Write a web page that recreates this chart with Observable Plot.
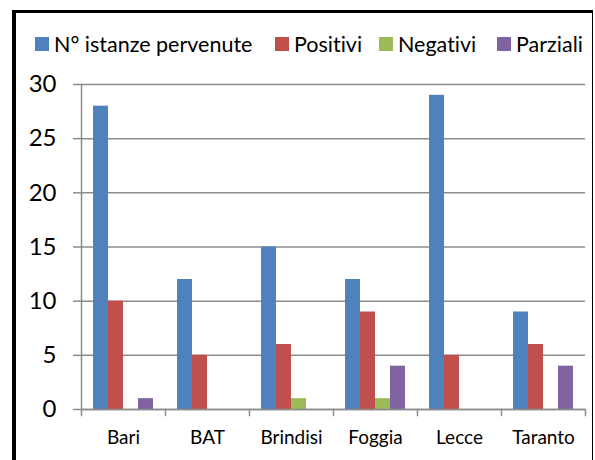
<!DOCTYPE html>
<html>
<head>
<meta charset="utf-8">
<script src="https://cdn.jsdelivr.net/npm/d3@7"></script>
<script src="https://cdn.jsdelivr.net/npm/@observablehq/plot@0.6"></script>
<style>
  html, body { margin: 0; padding: 0; background: white; }
  body { width: 595px; height: 460px; position: relative; overflow: hidden; font-family: Lato, "Open Sans", sans-serif; font-variant-ligatures: none; }
  #frame { position: absolute; left: 12px; top: 10px; width: 576px; height: 470px; border-left: 4px solid black; border-top: 3px solid black; border-right: 1.5px solid black; z-index: 3; pointer-events: none; }
  #legend { position: absolute; left: 0; top: 0; width: 595px; height: 60px; font-size: 21.5px; color: black; white-space: nowrap; z-index: 2; }
  #legend .item { position: absolute; top: 30px; height: 28px; display: flex; align-items: center; }
  #legend .sw { width: 14px; height: 14px; margin-right: 5px; }
  #chart { position: absolute; left: 0; top: 60px; z-index: 1; }
</style>
</head>
<body>
<div id="frame"></div>
<div id="legend"></div>
<div id="chart"></div>
<script>
const categories = ["Bari", "BAT", "Brindisi", "Foggia", "Lecce", "Taranto"];
const series = ["N° istanze pervenute", "Positivi", "Negativi", "Parziali"];
const istanze = [28, 12, 15, 12, 29, 9];
const positivi = [10, 5, 6, 9, 5, 6];
const negativi = [0, 0, 1, 1, 0, 0];
const parziali = [1, 0, 0, 4, 0, 4];
const colors = ["#4F81BD", "#C0504D", "#9BBB59", "#8064A2"];
const yTicks = [0, 5, 10, 15, 20, 25, 30];
const legendLeft = [35, 275, 379, 497];

const seriesValues = [istanze, positivi, negativi, parziali];
const data = categories.flatMap((c, i) =>
  seriesValues.map((arr, j) => ({category: c, series: series[j], value: arr[i]}))
);

// legend
const legend = document.getElementById("legend");
series.forEach((s, j) => {
  const item = document.createElement("div");
  item.className = "item";
  item.style.left = legendLeft[j] + "px";
  const sw = document.createElement("span");
  sw.className = "sw";
  sw.style.background = colors[j];
  const label = document.createElement("span");
  label.textContent = s;
  item.appendChild(sw);
  item.appendChild(label);
  legend.appendChild(item);
});

const H = 400, MT = 24, MB = 51;
const grid = "#8c8c8c";

const chart = Plot.plot({
  width: 595,
  height: H,
  marginTop: MT,
  marginBottom: MB,
  marginLeft: 78,
  marginRight: 8,
  style: {background: "transparent", fontFamily: "Lato, 'Open Sans', sans-serif", color: "black", overflow: "visible"},
  fx: {domain: categories, padding: 0, label: null},
  x: {domain: series, paddingInner: 0, paddingOuter: 0.8, axis: null},
  y: {domain: [0, 30], label: null},
  color: {domain: series, range: colors},
  marks: [
    Plot.gridY(yTicks, {stroke: grid, strokeOpacity: 1, strokeWidth: 1.5}),
    Plot.barY(data, {fx: "category", x: "series", y: "value", fill: "series", inset: 0}),
    Plot.ruleY([0], {stroke: grid, strokeWidth: 1.5}),
    Plot.frame({anchor: "left", facetAnchor: "left", stroke: grid, strokeWidth: 1.5}),
    Plot.frame({anchor: "left", stroke: grid, strokeWidth: 1.5, insetTop: H - MT - MB, insetBottom: -6}),
    Plot.frame({anchor: "right", facetAnchor: "right", stroke: grid, strokeWidth: 1.5, insetTop: H - MT - MB, insetBottom: -6}),
    Plot.axisY(yTicks, {tickSize: 8, tickPadding: 17, stroke: grid, strokeWidth: 1.5, fill: "black", fontSize: 24, label: null}),
    Plot.axisFx({anchor: "bottom", tickSize: 0, tickPadding: 21, fill: "black", fontSize: 19, label: null})
  ]
});
document.getElementById("chart").appendChild(chart);
</script>
</body>
</html>
